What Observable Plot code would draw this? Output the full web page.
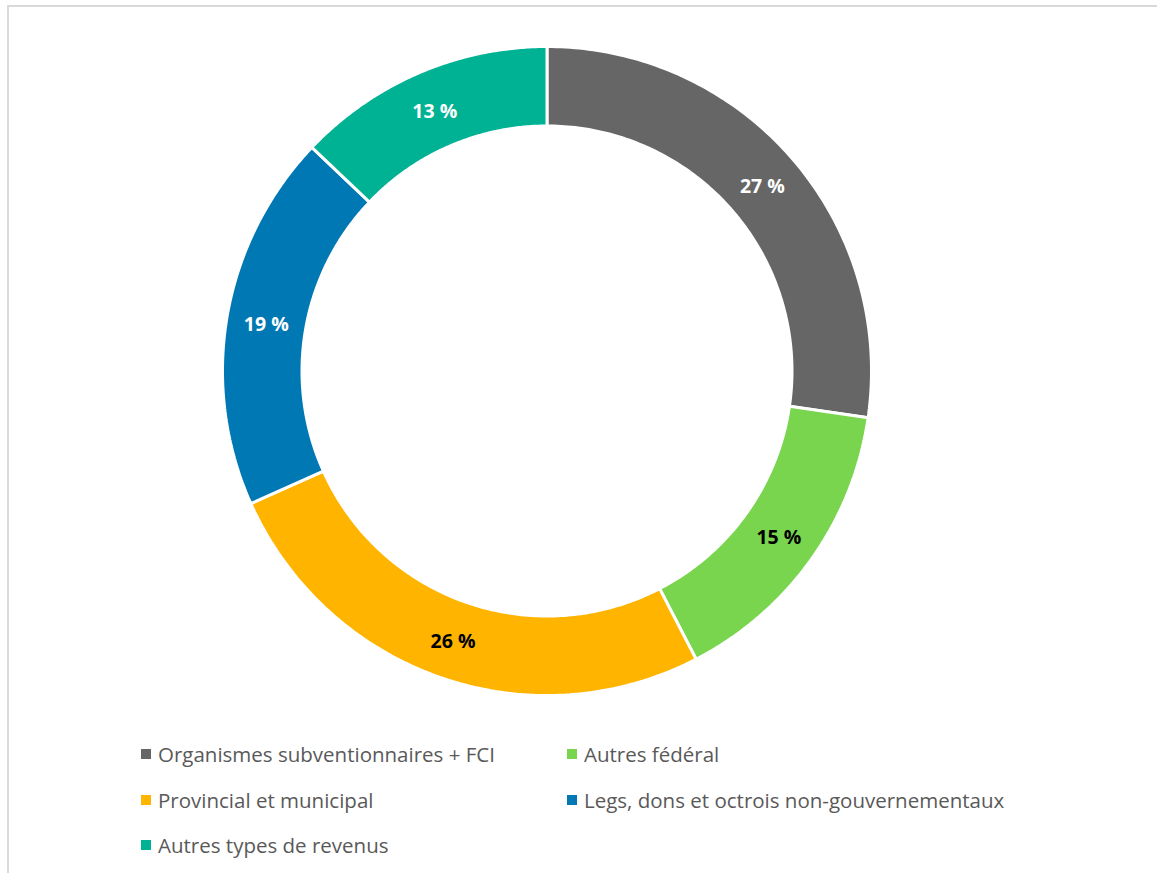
<!DOCTYPE html>
<html><head><meta charset="utf-8">
<script src="https://cdn.jsdelivr.net/npm/d3@7"></script>
<script src="https://cdn.jsdelivr.net/npm/@observablehq/plot@0.6"></script>
<style>
html,body{margin:0;padding:0;background:#fff;}
#wrap{position:relative;width:1157px;height:873px;overflow:hidden;font-family:"Open Sans",sans-serif;}
#frame{position:absolute;left:7px;top:5px;width:1200px;height:900px;border-left:2px solid #d9d9d9;border-top:2px solid #d9d9d9;}
#chart{position:absolute;left:0;top:0;}
.lg{position:absolute;display:flex;align-items:center;font-size:20.5px;color:#595959;white-space:nowrap;}
.lg span.sw{display:inline-block;width:10px;height:10px;margin-right:7px;}
</style></head>
<body><div id="wrap"><div id="frame"></div><div id="chart"></div><div id="legend"></div></div>
<script>
const categories = ["Organismes subventionnaires + FCI","Autres fédéral","Provincial et municipal","Legs, dons et octrois non-gouvernementaux","Autres types de revenus"];
const values = [27.3, 15.1, 25.9, 18.8, 12.9];
const labels = ["27 %","15 %","26 %","19 %","13 %"];
const colors = ["#666666","#7AD54E","#FFB400","#0078B4","#00B294"];
const labelColors = ["#ffffff","#000000","#000000","#ffffff","#ffffff"];

const W = 1157, H = 720;
const cx = 546.5, cy = 370.5, R = 324.5, innerFrac = 245/324.5;

const total = d3.sum(values);
let acc = 0;
const slices = values.map((v,i)=>{const a0 = acc/total*2*Math.PI; acc += v; const a1 = acc/total*2*Math.PI; return {cat:categories[i], a0, a1, i};});

const poly = [];
for (const s of slices) {
  const n = 120;
  for (let k=0;k<=n;k++){const a = s.a0+(s.a1-s.a0)*k/n; poly.push({cat:s.cat, x:Math.sin(a), y:Math.cos(a)});}
  for (let k=n;k>=0;k--){const a = s.a0+(s.a1-s.a0)*k/n; poly.push({cat:s.cat, x:innerFrac*Math.sin(a), y:innerFrac*Math.cos(a)});}
}
const rm = (1+innerFrac)/2;
const lab = slices.map(s=>{const a=(s.a0+s.a1)/2; return {cat:s.cat, x:rm*Math.sin(a), y:rm*Math.cos(a), label:labels[s.i], lc:labelColors[s.i]};});

const plot = Plot.plot({
  width: W, height: H, margin: 0,
  x: {domain: [-cx/R, (W-cx)/R], axis: null},
  y: {domain: [-(H-cy)/R, cy/R], axis: null},
  color: {domain: categories, range: colors},
  style: {background: "transparent"},
  marks: [
    Plot.line(poly, {x:"x", y:"y", z:"cat", fill:"cat", stroke:"#ffffff", strokeWidth:3, curve:"linear-closed", strokeLinejoin:"miter"}),
    Plot.text(lab, {x:"x", y:"y", dy:2, text:"label", fill:d=>d.lc, fontSize:19.5, fontWeight:"bold", fontFamily:"'Open Sans', sans-serif"})
  ]
});
document.getElementById("chart").appendChild(plot);

const legendPos = [[141,754],[567,754],[141,800],[567,800],[141,845]];
const lg = document.getElementById("legend");
categories.forEach((c,i)=>{
  const d = document.createElement("div");
  d.className="lg"; d.style.left=legendPos[i][0]+"px"; d.style.top=(legendPos[i][1]-13)+"px"; d.style.height="26px";
  d.innerHTML = `<span class="sw" style="background:${colors[i]}"></span>`;
  d.appendChild(document.createTextNode(c));
  lg.appendChild(d);
});
</script></body></html>
